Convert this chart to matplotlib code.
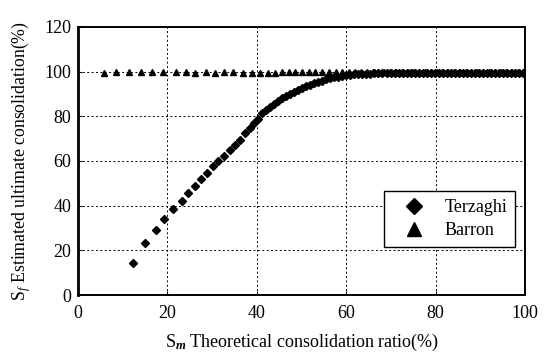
import matplotlib
matplotlib.use("Agg")
import matplotlib.pyplot as plt

# Terzaghi: theoretical ratio Sm (%) vs estimated ultimate consolidation Sf (%)
terzaghi_x = [12.3, 15.0, 17.4, 19.3, 21.3, 23.2, 24.7, 26.2, 27.6, 28.9,
              30.3, 31.4, 32.7, 34.0, 35.1, 36.2, 37.4, 38.4, 39.3, 40.2,
              41.1, 42.0, 42.9, 43.8, 44.7, 45.6, 46.5, 47.4, 48.3, 49.2,
              50.1, 51.0, 51.9, 52.8, 53.7, 54.6, 55.5, 56.4, 57.3, 58.2,
              59.1, 60.0, 60.9, 61.8, 62.7, 63.6, 64.5, 65.4, 66.3, 67.2,
              68.1, 69.0, 69.9, 70.8, 71.7, 72.6, 73.5, 74.4, 75.3, 76.2,
              77.1, 78.0, 78.9, 79.8, 80.7, 81.6, 82.5, 83.4, 84.3, 85.2,
              86.1, 87.0, 87.9, 88.8, 89.7, 90.6, 91.5, 92.4, 93.3, 94.2,
              95.1, 96.0, 96.9, 97.8, 98.7, 99.6]
terzaghi_y = [14.5, 23.5, 29.0, 34.0, 38.7, 42.0, 45.5, 48.7, 51.8, 54.5,
              57.6, 59.8, 62.3, 65.0, 67.3, 69.5, 72.5, 74.7, 77.0, 79.0,
              81.3, 82.7, 84.2, 85.6, 86.9, 88.1, 89.2, 90.2, 91.0, 91.8,
              92.6, 93.4, 94.1, 94.8, 95.4, 96.0, 96.5, 97.0, 97.4, 97.8,
              98.1, 98.4, 98.6, 98.8, 98.9, 99.0, 99.1, 99.1, 99.2, 99.2,
              99.2, 99.2, 99.2, 99.2, 99.2, 99.2, 99.2, 99.2, 99.2, 99.2,
              99.2, 99.2, 99.2, 99.2, 99.2, 99.2, 99.2, 99.2, 99.2, 99.2,
              99.2, 99.2, 99.2, 99.2, 99.2, 99.2, 99.2, 99.2, 99.2, 99.2,
              99.2, 99.2, 99.2, 99.2, 99.2, 99.2]

# Barron
barron_x = [5.9, 8.6, 11.5, 14.1, 16.5, 19.1, 21.9, 24.2, 26.2, 28.6,
            30.6, 32.7, 34.7, 36.8, 38.9, 40.6, 42.4, 44.1, 45.6, 47.1,
            48.6, 50.1, 51.6, 53.1, 54.6, 56.1, 57.6, 59.1, 60.5, 61.9,
            63.3, 64.6, 65.9, 67.2, 68.5, 69.8, 71.1, 72.4, 73.7, 75.0,
            76.3, 77.6, 78.9, 80.2, 81.5, 82.8, 84.1, 85.4, 86.7, 88.0,
            89.3, 90.6, 91.9, 93.2, 94.5, 95.8, 97.1, 98.4, 99.7]
barron_y = [99.6, 99.8, 99.9, 99.8, 99.8, 99.8, 99.9, 99.7, 99.6, 99.7,
            99.6, 99.7, 99.7, 99.6, 99.3, 99.6, 99.6, 99.6, 99.8, 99.7,
            99.7, 99.8, 99.7, 99.7, 99.8, 99.8, 99.8, 99.8, 99.7, 99.7,
            99.7, 99.7, 99.7, 99.7, 99.7, 99.7, 99.7, 99.7, 99.7, 99.7,
            99.7, 99.7, 99.7, 99.7, 99.7, 99.7, 99.7, 99.7, 99.7, 99.7,
            99.7, 99.7, 99.7, 99.7, 99.7, 99.7, 99.7, 99.7, 99.7]

x_ticks = [0, 20, 40, 60, 80, 100]
y_ticks = [0, 20, 40, 60, 80, 100, 120]

plt.rcParams["font.family"] = "Liberation Serif"
plt.rcParams["mathtext.fontset"] = "custom"
plt.rcParams["mathtext.rm"] = "Liberation Serif"
plt.rcParams["mathtext.it"] = "Liberation Serif:italic"
plt.rcParams["mathtext.bf"] = "Liberation Serif:bold:italic"

fig = plt.figure(figsize=(5.51, 3.55), dpi=100)
ax = fig.add_axes([0.1416, 0.169, 0.8114, 0.755])

ax.plot(terzaghi_x, terzaghi_y, linestyle="none", marker="D", markersize=4.0,
        color="black", label="Terzaghi")
ax.plot(barron_x, barron_y, linestyle="none", marker="^", markersize=5.0,
        color="black", label="Barron")

ax.set_xlim(0, 100)
ax.set_ylim(0, 120)
ax.set_xticks(x_ticks)
ax.set_yticks(y_ticks)
ax.tick_params(direction="in", length=3, labelsize=13, pad=7)
ax.tick_params(axis="y", pad=5)
ax.grid(True, color="black", linestyle=(0, (2, 2.5)), linewidth=0.7)

for side in ["top", "right", "bottom"]:
    ax.spines[side].set_linewidth(1.4)
ax.spines["left"].set_linewidth(2.0)

ax.set_xlabel(r"S$_{\mathbf{m}}$ Theoretical consolidation ratio(%)", fontsize=13,
              labelpad=7)
ax.set_ylabel(r"S$_f$ Estimated ultimate consolidation(%)", fontsize=12.8,
              labelpad=8)

leg = ax.legend(loc="lower right", bbox_to_anchor=(0.978, 0.179), fontsize=13,
                markerscale=2.1, fancybox=False, edgecolor="black",
                framealpha=1, handletextpad=0.5, borderpad=0.45,
                labelspacing=0.3, handlelength=2.4, borderaxespad=0)
leg.get_frame().set_linewidth(1.0)

fig.savefig("out.png", dpi=100)
